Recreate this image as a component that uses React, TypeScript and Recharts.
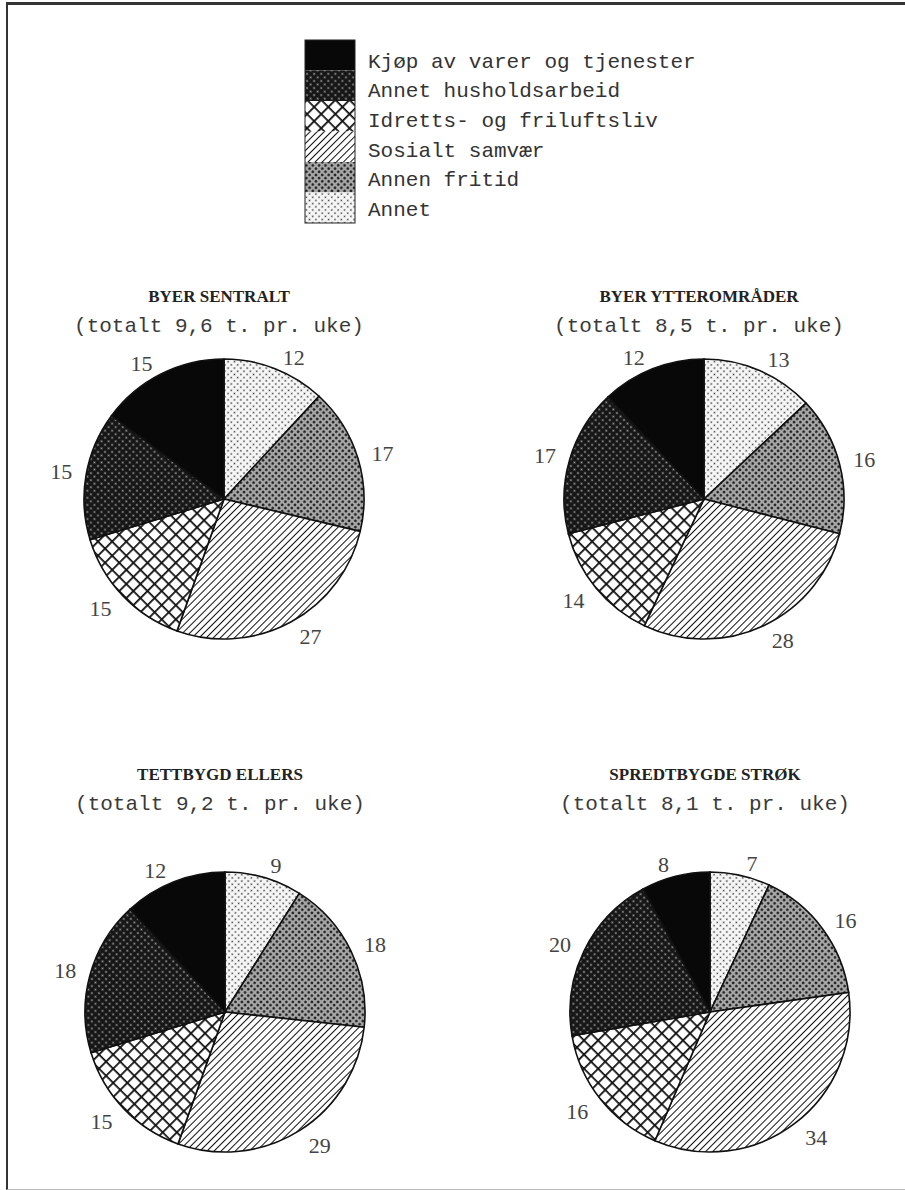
import React from "react";
import { PieChart, Pie, Cell } from "recharts";

// legend order (top to bottom)
const categories = [
  "Kjøp av varer og tjenester",
  "Annet husholdsarbeid",
  "Idretts- og friluftsliv",
  "Sosialt samvær",
  "Annen fritid",
  "Annet",
];

const regions = ["BYER SENTRALT", "BYER YTTEROMRÅDER", "TETTBYGD ELLERS", "SPREDTBYGDE STRØK"];
const totals = ["9,6", "8,5", "9,2", "8,1"];

// per cent, in legend order
const byerSentralt = [15, 15, 15, 27, 17, 12];
const byerYtteromrader = [12, 17, 14, 28, 16, 13];
const tettbygdEllers = [12, 18, 15, 29, 18, 9];
const spredtbygdeStrok = [8, 20, 16, 34, 16, 7];

const regionValues = [byerSentralt, byerYtteromrader, tettbygdEllers, spredtbygdeStrok];

// where each panel sits on the page
const panels = [
  { x: 219, titleY: 297, pieY: 494 },
  { x: 699, titleY: 297, pieY: 494 },
  { x: 220, titleY: 775, pieY: 1007 },
  { x: 705, titleY: 775, pieY: 1007 },
];

const patternIds = ["p-kjop", "p-hus", "p-idrett", "p-sosialt", "p-fritid", "p-annet"];

const MONO = "'Liberation Mono', 'DejaVu Sans Mono', monospace";
const SERIF = "'Liberation Serif', 'DejaVu Serif', serif";
const RADIAN = Math.PI / 180;

function Patterns() {
  return (
    <defs>
      <pattern id="p-kjop" width="4" height="4" patternUnits="userSpaceOnUse">
        <rect width="4" height="4" fill="#080808" />
      </pattern>
      <pattern id="p-hus" width="5" height="5" patternUnits="userSpaceOnUse" patternTransform="rotate(45)">
        <rect width="5" height="5" fill="#161616" />
        <circle cx="2.5" cy="2.5" r="1.05" fill="#9a9a9a" />
      </pattern>
      <pattern id="p-idrett" width="10" height="10" patternUnits="userSpaceOnUse" patternTransform="rotate(45)">
        <rect width="10" height="10" fill="#fff" />
        <path d="M0 0H10M0 0V10" stroke="#111" strokeWidth="3.6" />
      </pattern>
      <pattern id="p-sosialt" width="5" height="5" patternUnits="userSpaceOnUse" patternTransform="rotate(45)">
        <rect width="5" height="5" fill="#fff" />
        <path d="M0 0V5" stroke="#111" strokeWidth="2" />
      </pattern>
      <pattern id="p-fritid" width="4.5" height="4.5" patternUnits="userSpaceOnUse" patternTransform="rotate(45)">
        <rect width="4.5" height="4.5" fill="#a6a6a6" />
        <circle cx="2.25" cy="2.25" r="1.3" fill="#1a1a1a" />
      </pattern>
      <pattern id="p-annet" width="4.5" height="4.5" patternUnits="userSpaceOnUse" patternTransform="rotate(45)">
        <rect width="4.5" height="4.5" fill="#f6f6f6" />
        <circle cx="2.25" cy="2.25" r="0.85" fill="#3a3a3a" />
      </pattern>
    </defs>
  );
}

function Legend() {
  return (
    <svg width={420} height={200} style={{ position: "absolute", left: 300, top: 35 }}>
      <Patterns />
      {categories.map((c, i) => (
        <g key={c}>
          <rect x={5} y={5 + i * 30.5} width={50} height={30.5} fill={`url(#${patternIds[i]})`} />
          <text
            x={68}
            y={27 + i * 29.7}
            dominantBaseline="central"
            fontFamily={MONO}
            fontSize={21}
            fill="#333"
          >
            {c}
          </text>
        </g>
      ))}
      <rect x={5} y={5} width={50} height={183} fill="none" stroke="#222" strokeWidth={1} />
    </svg>
  );
}

// value labels sit just outside the rim, anchored away from the pie
const renderLabel = (props: any) => {
  const { cx, cy, midAngle, outerRadius, value } = props;
  const r = outerRadius + 10;
  const cos = Math.cos(-midAngle * RADIAN);
  const sin = Math.sin(-midAngle * RADIAN);
  const x = cx + r * cos + (cos >= 0 ? 4 : -4);
  const y = cy + r * sin + (sin > 0 ? 6 : -2);
  return (
    <text
      x={x}
      y={y}
      textAnchor={cos >= 0 ? "start" : "end"}
      dominantBaseline="central"
      fontFamily={SERIF}
      fontSize={22}
      fill="#444"
    >
      {value}
    </text>
  );
};

function RegionPie({ index }: { index: number }) {
  const p = panels[index];
  // pie runs clockwise from 12 o'clock, starting with "Annet"
  const data = categories.map((name, i) => ({ name, value: regionValues[index][i], pat: patternIds[i] })).reverse();
  return (
    <div style={{ position: "absolute", left: p.x - 220, top: 0, width: 440 }}>
      <div
        style={{
          position: "absolute",
          top: p.titleY - 11,
          width: 440,
          textAlign: "center",
          fontFamily: SERIF,
          fontWeight: "bold",
          fontSize: 17,
          color: "#222",
          lineHeight: "22px",
        }}
      >
        {regions[index]}
      </div>
      <div
        style={{
          position: "absolute",
          top: p.titleY + 20,
          width: 440,
          textAlign: "center",
          fontFamily: MONO,
          fontSize: 21,
          color: "#3a3a3a",
          lineHeight: "20px",
        }}
      >
        (totalt {totals[index]} t. pr. uke)
      </div>
      <div style={{ position: "absolute", top: p.pieY - 180 }}>
        <PieChart width={440} height={360}>
          <Pie
            data={data}
            dataKey="value"
            nameKey="name"
            cx={220}
            cy={180}
            outerRadius={140}
            startAngle={90}
            endAngle={-270}
            stroke="#111"
            strokeWidth={1.6}
            label={renderLabel}
            labelLine={false}
            isAnimationActive={false}
          >
            {data.map((d) => (
              <Cell key={d.name} fill={`url(#${d.pat})`} />
            ))}
          </Pie>
        </PieChart>
      </div>
    </div>
  );
}

export default function App() {
  return (
    <div style={{ position: "absolute", left: 0, top: 0, width: 905, height: 1190, background: "#fff", overflow: "hidden" }}>
      <div
        style={{
          position: "absolute",
          left: 6,
          top: 2,
          width: 920,
          height: 1184,
          borderTop: "3px solid #333",
          borderLeft: "2px solid #333",
          borderBottom: "1px solid #bbb",
        }}
      />
      <Legend />
      {regions.map((r, i) => (
        <RegionPie key={r} index={i} />
      ))}
    </div>
  );
}
